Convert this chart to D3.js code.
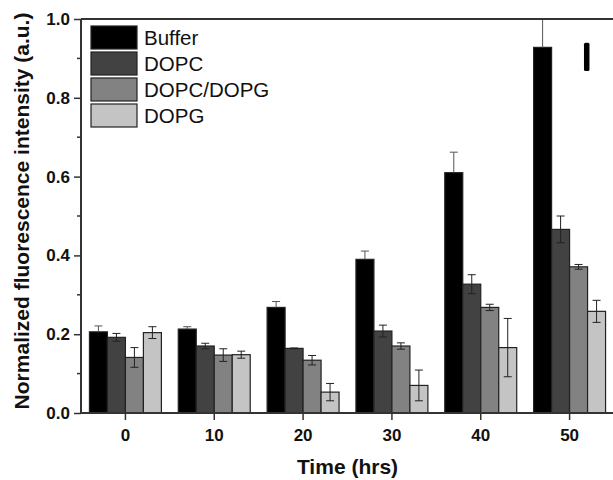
<!DOCTYPE html>
<html>
<head>
<meta charset="utf-8">
<script src="https://cdn.jsdelivr.net/npm/d3@7"></script>
<style>
  body { margin: 0; background: #fff; }
  text { font-family: Arial, "Liberation Sans", sans-serif; }
</style>
</head>
<body>
<div id="chart"></div>
<script>
// data
const times = ["0", "10", "20", "30", "40", "50"];
const series = ["Buffer", "DOPC", "DOPC/DOPG", "DOPG"];
const buffer    = [0.206, 0.213, 0.268, 0.390, 0.610, 0.928];
const dopc      = [0.192, 0.170, 0.164, 0.208, 0.327, 0.466];
const dopcDopg  = [0.141, 0.147, 0.134, 0.170, 0.268, 0.371];
const dopg      = [0.204, 0.148, 0.053, 0.070, 0.166, 0.258];
const bufferErr   = [0.015, 0.006, 0.015, 0.021, 0.052, 0.072];
const dopcErr     = [0.010, 0.007, 0.001, 0.015, 0.024, 0.034];
const dopcDopgErr = [0.025, 0.016, 0.012, 0.008, 0.008, 0.006];
const dopgErr     = [0.015, 0.009, 0.022, 0.039, 0.074, 0.028];
const yTicks = [0, 0.2, 0.4, 0.6, 0.8, 1.0];
const yMinor = [0.1, 0.3, 0.5, 0.7, 0.9];
const colors = ["#000000", "#424242", "#828282", "#c4c4c4"];

const values = [buffer, dopc, dopcDopg, dopg];
const errs = [bufferErr, dopcErr, dopcDopgErr, dopgErr];

const rows = [];
times.forEach((t, i) => {
  series.forEach((s, j) => {
    rows.push({ time: t, series: s, value: values[j][i], err: errs[j][i] });
  });
});

const W = 613, H = 480;
const margin = { top: 19, right: -1, bottom: 67, left: 81 };
const width = W - margin.left - margin.right,
      height = H - margin.top - margin.bottom;

const svg = d3.select("#chart").append("svg")
    .attr("width", W)
    .attr("height", H);

const g = svg.append("g")
    .attr("transform", `translate(${margin.left},${margin.top})`);

const x0 = d3.scaleBand()
    .domain(times)
    .range([0, width])
    .paddingInner(0.19)
    .paddingOuter(0.095);

const x1 = d3.scaleBand()
    .domain(series)
    .range([0, x0.bandwidth()]);

const y = d3.scaleLinear()
    .domain([0, 1.0])
    .range([height, 0]);

const color = d3.scaleOrdinal().domain(series).range(colors);

// bars
g.selectAll(".bar")
  .data(rows)
  .enter().append("rect")
    .attr("class", "bar")
    .attr("x", d => x0(d.time) + x1(d.series))
    .attr("y", d => y(d.value))
    .attr("width", x1.bandwidth())
    .attr("height", d => height - y(d.value))
    .attr("fill", d => color(d.series))
    .attr("stroke", "#222")
    .attr("stroke-width", 1.2);

// error bars
const eb = g.selectAll(".err")
  .data(rows)
  .enter().append("g")
    .attr("class", "err")
    .attr("transform", d => `translate(${x0(d.time) + x1(d.series) + x1.bandwidth() / 2},0)`)
    .attr("stroke", d => d.series === "Buffer" ? "#555" : "#222")
    .attr("stroke-width", 1);

eb.append("line")
    .attr("y1", d => d.series === "Buffer" ? y(d.value) : y(d.value - d.err))
    .attr("y2", d => y(Math.min(1, d.value + d.err)));
eb.append("line")
    .attr("x1", -4).attr("x2", 4)
    .attr("y1", d => y(Math.min(1, d.value + d.err)))
    .attr("y2", d => y(Math.min(1, d.value + d.err)));
eb.filter(d => d.series !== "Buffer").append("line")
    .attr("x1", -4).attr("x2", 4)
    .attr("y1", d => y(d.value - d.err))
    .attr("y2", d => y(d.value - d.err));

// axes
const axisColor = "#333";
const yAxis = g.append("g")
    .call(d3.axisLeft(y).tickValues(yTicks).tickFormat(d3.format(".1f")).tickSize(7).tickPadding(4));
yAxis.select(".domain").remove();
yAxis.selectAll("line").attr("stroke", axisColor).attr("stroke-width", 1.5);
yAxis.selectAll("text")
    .style("font-size", "17px").style("font-weight", "bold").attr("fill", "#111");

g.append("g")
  .selectAll("line")
  .data(yMinor)
  .enter().append("line")
    .attr("x1", -4).attr("x2", 0)
    .attr("y1", d => y(d)).attr("y2", d => y(d))
    .attr("stroke", axisColor).attr("stroke-width", 1.5);

const xAxis = g.append("g")
    .attr("transform", `translate(0,${height})`)
    .call(d3.axisBottom(x0).tickSize(7).tickPadding(9));
xAxis.select(".domain").remove();
xAxis.selectAll("line").attr("stroke", axisColor).attr("stroke-width", 1.5);
xAxis.selectAll("text")
    .style("font-size", "17px").style("font-weight", "bold").attr("fill", "#111");

// frame
g.append("line").attr("x1", 0).attr("x2", 0).attr("y1", 0).attr("y2", height)
    .attr("stroke", axisColor).attr("stroke-width", 2);
g.append("line").attr("x1", 0).attr("x2", width + 2).attr("y1", height).attr("y2", height)
    .attr("stroke", axisColor).attr("stroke-width", 2);
g.append("line").attr("x1", 0).attr("x2", width + 2).attr("y1", 0).attr("y2", 0)
    .attr("stroke", axisColor).attr("stroke-width", 2);

// stray marker at the top right
g.append("rect")
    .attr("x", x0("50") + x1("DOPC/DOPG") + x1.bandwidth() * 0.8)
    .attr("y", y(0.94))
    .attr("width", 5.5)
    .attr("height", y(0.868) - y(0.94))
    .attr("rx", 1.5)
    .attr("fill", "#000");

// axis titles
svg.append("text")
    .attr("transform", "translate(29,211) rotate(-90)")
    .attr("text-anchor", "middle")
    .style("font-size", "21px").style("font-weight", "bold")
    .attr("fill", "#111")
    .text("Normalized fluorescence intensity (a.u.)");

svg.append("text")
    .attr("x", margin.left + width / 2)
    .attr("y", 474)
    .attr("text-anchor", "middle")
    .style("font-size", "21px").style("font-weight", "bold")
    .attr("fill", "#111")
    .text("Time (hrs)");

// legend
const legend = g.append("g").attr("transform", "translate(10,7)");
const li = legend.selectAll("g")
  .data(series)
  .enter().append("g")
    .attr("transform", (d, i) => `translate(0,${i * 26})`);
li.append("rect")
    .attr("width", 46).attr("height", 23)
    .attr("fill", d => color(d))
    .attr("stroke", "#222").attr("stroke-width", 1.2);
li.append("text")
    .attr("x", 53).attr("y", 19)
    .style("font-size", "20.5px")
    .attr("fill", "#111")
    .text(d => d);
</script>
</body>
</html>
